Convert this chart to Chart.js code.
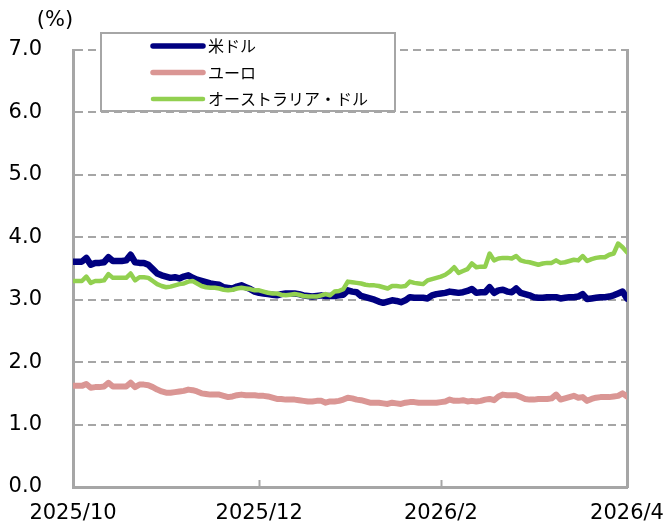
<!DOCTYPE html>
<html>
<head>
<meta charset="utf-8">
<script src="https://cdn.jsdelivr.net/npm/chart.js@4/dist/chart.umd.min.js"></script>
<style>
html,body{margin:0;padding:0;background:#fff;}
#wrap{width:665px;height:527px;}
</style>
</head>
<body>
<div id="wrap"><canvas id="c" width="665" height="527"></canvas></div>
<script>
const seriesNames = ['米ドル', 'ユーロ', 'オーストラリア・ドル'];
const tickIndex = [0, 42, 83, 125];
const tickLabels = ['2025/10', '2025/12', '2026/2', '2026/4'];
const yTicks = [0, 1, 2, 3, 4, 5, 6, 7];

const usd = [3.61,3.61,3.61,3.67,3.56,3.59,3.59,3.60,3.68,3.62,
 3.62,3.62,3.63,3.72,3.60,3.59,3.59,3.56,3.49,3.42,
 3.39,3.37,3.35,3.36,3.34,3.37,3.39,3.35,3.32,3.30,
 3.28,3.26,3.25,3.24,3.20,3.19,3.18,3.21,3.23,3.20,
 3.17,3.13,3.11,3.10,3.09,3.08,3.07,3.09,3.10,3.10,
 3.10,3.09,3.07,3.06,3.05,3.06,3.07,3.06,3.06,3.06,
 3.07,3.08,3.15,3.13,3.12,3.06,3.04,3.02,3.00,2.97,
 2.95,2.97,2.99,2.98,2.96,2.99,3.04,3.03,3.03,3.03,
 3.02,3.07,3.09,3.10,3.11,3.13,3.12,3.11,3.12,3.14,
 3.17,3.11,3.12,3.12,3.20,3.11,3.15,3.16,3.13,3.12,
 3.18,3.11,3.09,3.07,3.04,3.03,3.03,3.04,3.04,3.04,
 3.02,3.03,3.04,3.04,3.05,3.09,3.01,3.02,3.03,3.04,
 3.04,3.05,3.07,3.10,3.13,3.02];

const eur = [1.62,1.62,1.62,1.65,1.59,1.60,1.60,1.61,1.67,1.61,
 1.61,1.61,1.61,1.67,1.60,1.64,1.64,1.63,1.60,1.56,
 1.53,1.51,1.51,1.52,1.53,1.54,1.56,1.55,1.53,1.50,
 1.49,1.48,1.48,1.48,1.46,1.44,1.45,1.47,1.48,1.47,
 1.47,1.47,1.46,1.46,1.45,1.43,1.41,1.41,1.40,1.40,
 1.40,1.39,1.38,1.37,1.37,1.38,1.38,1.35,1.37,1.37,
 1.38,1.40,1.43,1.42,1.40,1.39,1.37,1.35,1.35,1.35,
 1.34,1.33,1.35,1.34,1.33,1.35,1.36,1.36,1.35,1.35,
 1.35,1.35,1.35,1.36,1.37,1.40,1.38,1.38,1.39,1.37,
 1.38,1.37,1.38,1.40,1.41,1.39,1.45,1.48,1.47,1.47,
 1.47,1.44,1.41,1.40,1.40,1.41,1.41,1.41,1.42,1.48,
 1.40,1.42,1.44,1.46,1.43,1.44,1.38,1.41,1.43,1.44,
 1.44,1.44,1.45,1.46,1.50,1.45];

const aud = [3.30,3.30,3.30,3.37,3.27,3.30,3.30,3.31,3.41,3.35,
 3.35,3.35,3.35,3.42,3.31,3.36,3.36,3.35,3.30,3.25,
 3.22,3.20,3.21,3.23,3.25,3.26,3.29,3.30,3.26,3.22,
 3.20,3.19,3.19,3.18,3.16,3.15,3.16,3.18,3.19,3.18,
 3.17,3.15,3.15,3.13,3.11,3.10,3.10,3.08,3.07,3.08,
 3.09,3.08,3.06,3.05,3.05,3.05,3.07,3.09,3.07,3.13,
 3.14,3.17,3.29,3.28,3.27,3.26,3.24,3.23,3.23,3.22,
 3.20,3.18,3.22,3.22,3.21,3.22,3.29,3.27,3.26,3.25,
 3.31,3.33,3.35,3.37,3.40,3.45,3.52,3.43,3.46,3.49,
 3.58,3.52,3.53,3.53,3.74,3.63,3.66,3.67,3.67,3.66,
 3.70,3.63,3.61,3.60,3.58,3.56,3.58,3.59,3.59,3.63,
 3.59,3.60,3.62,3.64,3.63,3.70,3.62,3.65,3.67,3.68,
 3.68,3.72,3.74,3.90,3.84,3.76];

const colors = ['#000080', '#DA9694', '#92D050'];
const widths = [6.5, 6, 4.5];
const drawOrder = [2, 1, 0];
const seriesData = [usd, eur, aud];

const gray = '#A6A6A6';
const tickFont = {family: "'DejaVu Sans', Verdana, sans-serif", size: 21};

const extras = {
  id: 'extras',
  afterDatasetsDraw(chart) {
    const ctx = chart.ctx;
    const xs = chart.scales.x;
    const bottom = chart.chartArea.bottom;
    ctx.save();
    ctx.strokeStyle = gray;
    ctx.lineWidth = 2;
    tickIndex.slice(1, -1).forEach(v => {
      const px = Math.round(xs.getPixelForValue(v)) + 0.5;
      ctx.beginPath();
      ctx.moveTo(px, bottom);
      ctx.lineTo(px, bottom - 7);
      ctx.stroke();
    });
    ctx.fillStyle = '#000';
    ctx.font = "21px 'DejaVu Sans', sans-serif";
    ctx.textAlign = 'center';
    ctx.textBaseline = 'middle';
    ctx.fillText('(%)', 55, 21);
    ctx.fillStyle = '#fff';
    ctx.fillRect(101, 33, 294, 78);
    ctx.strokeStyle = gray;
    ctx.lineWidth = 2;
    ctx.strokeRect(101, 33, 294, 78);
    chart.data.datasets.forEach((ds, i) => {
      const y = 46 + i * 26.5;
      ctx.strokeStyle = ds.borderColor;
      ctx.lineWidth = Math.min(ds.borderWidth, 5.5);
      ctx.lineCap = 'round';
      ctx.beginPath();
      ctx.moveTo(153, y);
      ctx.lineTo(203, y);
      ctx.stroke();
      ctx.fillStyle = '#000';
      ctx.font = "16px 'Noto Sans CJK JP', sans-serif";
      ctx.textAlign = 'left';
      ctx.textBaseline = 'middle';
      ctx.fillText(ds.label, 208, y);
    });
    ctx.restore();
  }
};

new Chart(document.getElementById('c'), {
  type: 'line',
  data: {
    datasets: seriesNames.map((name, k) => ({
      label: name,
      data: seriesData[k].map((v, i) => ({x: i, y: v})),
      borderColor: colors[k],
      backgroundColor: colors[k],
      borderWidth: widths[k],
      order: drawOrder[k],
      pointRadius: 0,
      tension: 0,
      borderJoinStyle: 'round',
      borderCapStyle: 'round'
    }))
  },
  options: {
    responsive: false,
    animation: false,
    events: [],
    layout: {padding: {left: 0, top: 50, right: 38, bottom: 0}, autoPadding: false},
    plugins: {legend: {display: false}, tooltip: {enabled: false}},
    scales: {
      x: {
        type: 'linear', min: 0, max: 125,
        afterBuildTicks: s => { s.ticks = tickIndex.map(v => ({value: v})); },
        ticks: {
          autoSkip: false, maxRotation: 0, minRotation: 0,
          callback: v => tickLabels[tickIndex.indexOf(v)],
          color: '#000', font: tickFont, padding: 14
        },
        grid: {display: false, drawTicks: false},
        border: {display: true, color: gray, width: 3},
        afterFit: s => { s.height = 40; s.paddingLeft = 0; s.paddingRight = 0; }
      },
      y: {
        min: 0, max: 7,
        afterBuildTicks: s => { s.ticks = yTicks.map(v => ({value: v})); },
        ticks: {callback: v => v.toFixed(1), color: '#000', font: tickFont, padding: 31},
        grid: {color: gray, lineWidth: 2, drawTicks: false},
        border: {display: true, color: gray, width: 3, dash: [8, 5]},
        afterFit: s => { s.width = 73; s.paddingTop = 0; s.paddingBottom = 0; }
      },
      y2: {
        position: 'right', min: 0, max: 7,
        ticks: {display: false},
        grid: {display: false, drawTicks: false},
        border: {display: true, color: gray, width: 3},
        afterFit: s => { s.width = 0; s.paddingTop = 0; s.paddingBottom = 0; }
      }
    }
  },
  plugins: [extras]
});
</script>
</body>
</html>
